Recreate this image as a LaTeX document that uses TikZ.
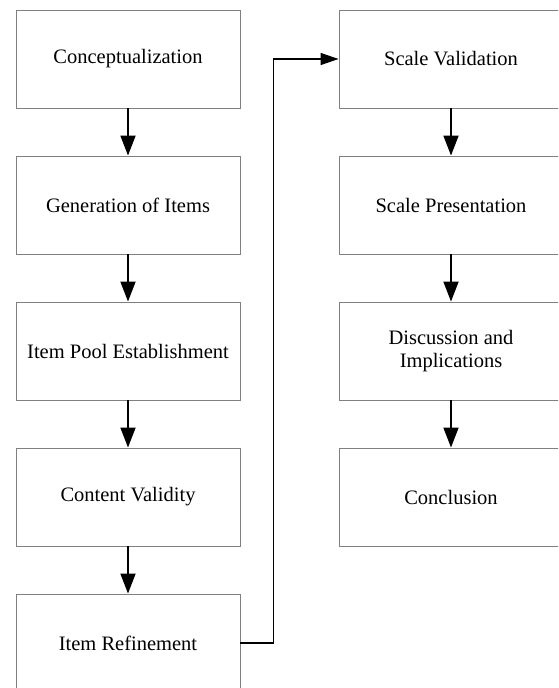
\documentclass[tikz,border=0pt]{standalone}
\usepackage{fontspec}
\setmainfont{Liberation Serif}
\usetikzlibrary{arrows.meta}
\tikzset{
    stage/.style={draw=black!50, line width=0.9pt, minimum width=224pt, minimum height=98pt,
        align=center, font=\fontsize{20.5}{23}\selectfont, inner sep=0pt},
    flow/.style={line width=1.8pt, -{Triangle[length=20pt,width=15pt]}},
    jump/.style={line width=1.3pt, -{Triangle[length=18pt,width=12pt]}}
}
\begin{document}
\begin{tikzpicture}[x=1pt,y=-1pt]
    \useasboundingbox (0,0) rectangle (558,688);
    \clip (0,0) rectangle (558,688);
    % Left column
    \node[stage] (L1) at (128,59) {Conceptualization};
    \node[stage] (L2) at (128,205) {Generation of Items};
    \node[stage] (L3) at (128,351) {Item Pool Establishment};
    \node[stage] (L4) at (128,497) {Content Validity};
    \node[stage] (L5) at (128,643) {Item Refinement};
    % Right column
    \node[stage] (R1) at (451,59) {Scale Validation};
    \node[stage] (R2) at (451,205) {Scale Presentation};
    \node[stage] (R3) at (451,351) {Discussion and\\Implications};
    \node[stage] (R4) at (451,497) {Conclusion};
    % Arrows down each column
    \foreach \i [evaluate=\i as \j using {int(\i+1)}] in {1,...,4} {
            \draw[flow] (L\i.south) -- (L\j.north);
        }
    \foreach \i [evaluate=\i as \j using {int(\i+1)}] in {1,2,3} {
            \draw[flow] (R\i.south) -- (R\j.north);
        }
    % Link between the columns
    \draw[jump] (L5.east) -- ++(33,0) |- (R1.west);
\end{tikzpicture}
\end{document}
